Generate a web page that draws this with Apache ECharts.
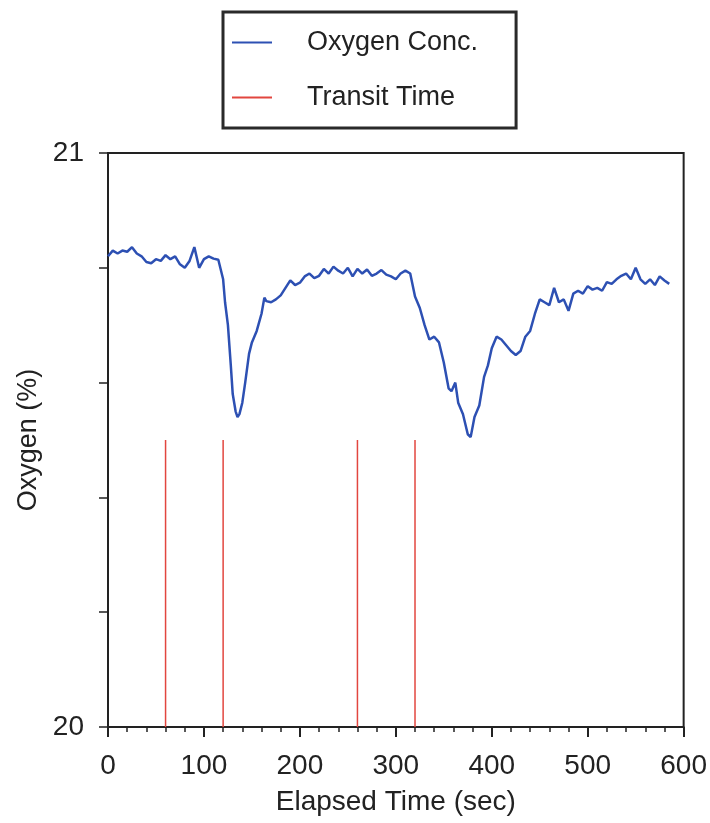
<!DOCTYPE html>
<head>
    <meta charset="utf-8">
    <title>Oxygen</title>
    <script src="https://cdn.jsdelivr.net/npm/echarts@6/dist/echarts.min.js"></script>
</head>
<body style="margin:0">
    <div id="chart" style="width:710px;height:823px"></div>

<script type="text/javascript">

// elapsed time (sec) and oxygen (%)
var times = [0,5,10,15,20,25,30,35,40,45,50,55,60,65,70,75,80,85,90,95,100,105,110,115,
    120,122,125,128,130,133,135,137,140,143,147,150,155,160,163,165,170,175,180,185,190,195,
    200,205,210,215,220,225,230,235,240,245,250,255,260,265,270,275,280,285,290,295,300,305,310,315,
    320,325,330,335,340,345,350,355,358,362,365,370,375,378,382,387,392,396,400,405,410,415,420,425,
    430,435,440,445,450,455,460,465,470,475,480,485,490,495,500,505,510,515,520,525,530,535,540,545,
    550,555,560,565,570,575,580,585];
var oxygen = [20.82,20.83,20.825,20.83,20.828,20.836,20.825,20.82,20.81,20.808,20.815,20.812,20.822,20.815,20.82,20.806,20.80,20.812,20.836,20.80,20.815,20.82,20.816,20.814,
    20.78,20.74,20.70,20.63,20.58,20.55,20.54,20.545,20.565,20.60,20.65,20.67,20.69,20.72,20.748,20.742,20.74,20.745,20.752,20.765,20.778,20.77,
    20.774,20.785,20.79,20.782,20.786,20.798,20.79,20.802,20.795,20.79,20.80,20.785,20.798,20.79,20.797,20.786,20.79,20.796,20.788,20.785,20.78,20.79,20.795,20.79,
    20.75,20.73,20.70,20.675,20.68,20.67,20.635,20.59,20.585,20.60,20.565,20.545,20.51,20.505,20.54,20.56,20.61,20.63,20.66,20.68,20.675,20.665,20.655,20.648,
    20.655,20.68,20.69,20.72,20.745,20.74,20.735,20.765,20.74,20.745,20.725,20.755,20.76,20.755,20.768,20.762,20.765,20.76,20.775,20.772,20.78,20.786,20.79,20.78,
    20.80,20.78,20.772,20.78,20.77,20.785,20.778,20.772];

var transitTimes = [60, 120, 260, 320];
var transitBase = 20;
var transitTop = 20.5;

var o2Data = times.map(function (t, i) { return [t, oxygen[i]]; });
var transitData = [];
transitTimes.forEach(function (t) {
    transitData.push([t, transitBase], [t, transitTop], [t, '-']);
});

var myChart = echarts.init(document.getElementById('chart'));
var font = 'Liberation Sans, Arial, sans-serif';

myChart.setOption({
    animation: false,
    legend: {
        orient: 'vertical',
        left: 223,
        top: 12,
        padding: [17, 38, 17, 9],
        itemGap: 28,
        itemWidth: 40,
        itemHeight: 14,
        borderColor: '#2a2a2a',
        borderWidth: 3,
        textStyle: { fontFamily: font, fontSize: 27, color: '#222', padding: [0, 0, 0, 30] },
        data: [
            { name: 'Oxygen Conc.', icon: 'path://M0,6 L40,6 L40,8 L0,8 Z' },
            { name: 'Transit Time', icon: 'path://M0,6 L40,6 L40,8 L0,8 Z' }
        ]
    },
    grid: {
        left: 108,
        right: 24,
        top: 153,
        bottom: 96,
        show: true,
        borderColor: '#222',
        borderWidth: 2
    },
    xAxis: {
        type: 'value',
        min: 0,
        max: 600,
        interval: 100,
        name: 'Elapsed Time (sec)',
        nameLocation: 'middle',
        nameGap: 61,
        nameTextStyle: { fontFamily: font, fontSize: 28, color: '#222' },
        axisLine: { lineStyle: { color: '#222', width: 2 } },
        axisTick: { length: 10, lineStyle: { color: '#222', width: 2 } },
        minorTick: { show: true, splitNumber: 5, length: 5, lineStyle: { color: '#222', width: 1.5 } },
        axisLabel: { fontFamily: font, fontSize: 28, color: '#222', margin: 25 },
        splitLine: { show: false }
    },
    yAxis: {
        type: 'value',
        min: 20,
        max: 21,
        interval: 0.2,
        name: 'Oxygen (%)',
        nameLocation: 'middle',
        nameGap: 64,
        nameTextStyle: { fontFamily: font, fontSize: 27, color: '#222' },
        axisLine: { lineStyle: { color: '#222', width: 2 } },
        axisTick: { length: 9, lineStyle: { color: '#222', width: 1.5 } },
        axisLabel: {
            fontFamily: font, fontSize: 28, color: '#222', margin: 24,
            formatter: function (v) { return (v === 20 || v === 21) ? String(v) : ''; }
        },
        splitLine: { show: false }
    },
    series: [
        {
            name: 'Oxygen Conc.',
            type: 'line',
            data: o2Data,
            showSymbol: false,
            color: '#2d50b3',
            lineStyle: { width: 2.5, color: '#2d50b3' }
        },
        {
            name: 'Transit Time',
            type: 'line',
            data: transitData,
            showSymbol: false,
            connectNulls: false,
            color: '#e2463f',
            lineStyle: { width: 1.5, color: '#e2463f' }
        }
    ]
});
</script>
</body>
